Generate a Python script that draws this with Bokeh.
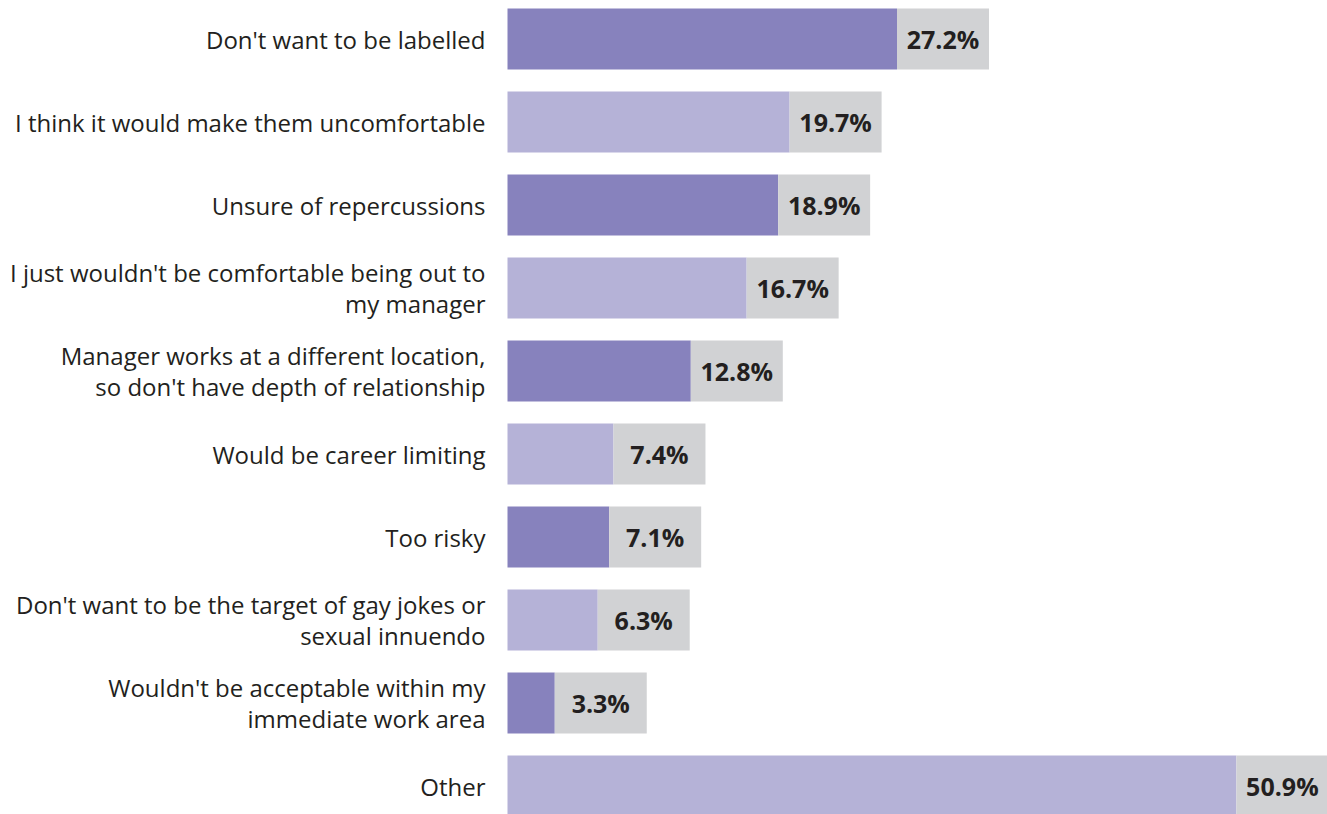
from bokeh.plotting import figure
from bokeh.models import ColumnDataSource, Range1d
from bokeh.core.properties import value
from bokeh.embed import file_html
from bokeh.resources import INLINE

categories = [
    "Don't want to be labelled",
    "I think it would make them uncomfortable",
    "Unsure of repercussions",
    "I just wouldn't be comfortable being out to\nmy manager",
    "Manager works at a different location,\nso don't have depth of relationship",
    "Would be career limiting",
    "Too risky",
    "Don't want to be the target of gay jokes or\nsexual innuendo",
    "Wouldn't be acceptable within my\nimmediate work area",
    "Other",
]
values = [27.2, 19.7, 18.9, 16.7, 12.8, 7.4, 7.1, 6.3, 3.3, 50.9]
value_labels = ["27.2%", "19.7%", "18.9%", "16.7%", "12.8%", "7.4%", "7.1%", "6.3%", "3.3%", "50.9%"]

W, H = 1327, 814
PX_PER_UNIT = 14.32
ORIGIN_PX = 507
BOX_W = 92 / PX_PER_UNIT
PITCH = 83

n = len(categories)
ypos = list(range(n))
bar_colors = ["#8782bd" if i % 2 == 0 else "#b5b2d7" for i in range(n)]

src = ColumnDataSource(dict(
    y=ypos,
    v=values,
    vend=[v + BOX_W for v in values],
    vmid=[v + BOX_W / 2 for v in values],
    lab=value_labels,
    cat=categories,
    zero=[0] * n,
    color=bar_colors,
))

p = figure(
    width=W, height=H, output_backend="svg", toolbar_location=None,
    x_range=Range1d(-ORIGIN_PX / PX_PER_UNIT, (W - ORIGIN_PX) / PX_PER_UNIT),
    y_range=Range1d((n - 1) + (H - (38.5 + PITCH * (n - 1))) / PITCH, -38.5 / PITCH),
    min_border=0, min_border_left=0, min_border_right=0, min_border_top=0, min_border_bottom=0,
)
p.axis.visible = False
p.grid.visible = False
p.outline_line_color = None
p.background_fill_color = "white"
p.border_fill_color = "white"

bh = 61 / PITCH
p.hbar(y="y", left="zero", right="v", height=bh, fill_color="color", line_color=None, source=src)
p.hbar(y="y", left="v", right="vend", height=bh, fill_color="#d1d2d4", line_color=None, source=src)

p.text(x="vmid", y="y", text="lab", source=src, text_align="center", text_baseline="middle",
       text_font=value("Open Sans"), text_font_style="bold", text_font_size="25px", text_color="#231f20")
p.text(x="zero", y="y", text="cat", source=src, x_offset=-22, text_align="right", text_baseline="middle",
       text_font=value("Open Sans"), text_font_size="24px", text_color="#231f20", text_line_height=0.95)

open("out.html", "w").write(file_html(p, INLINE))
